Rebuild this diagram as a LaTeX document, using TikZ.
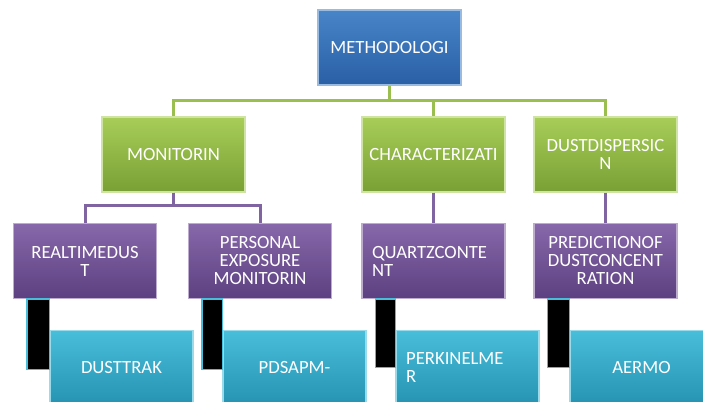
\documentclass[tikz,border=0pt]{standalone}
\usepackage{fontspec}
\setmainfont{Carlito}
\usetikzlibrary{calc}

\definecolor{methTop}{RGB}{72,132,200}
\definecolor{methBot}{RGB}{42,96,165}
\definecolor{grnTop}{RGB}{168,205,88}
\definecolor{grnBot}{RGB}{120,160,52}
\definecolor{grnLine}{RGB}{155,190,80}
\definecolor{purTop}{RGB}{135,104,170}
\definecolor{purBot}{RGB}{92,64,128}
\definecolor{purLine}{RGB}{128,100,162}
\definecolor{cyaTop}{RGB}{72,190,218}
\definecolor{cyaBot}{RGB}{38,146,178}

\begin{document}
\begin{tikzpicture}[x=0.75pt,y=-0.75pt,
                    boxND/.style={rectangle,
                                  minimum width=107.25pt,
                                  minimum height=56.25pt,
                                  inner sep=0pt,
                                  text=white,
                                  align=center,
                                  font=\fontsize{14}{13.5}\selectfont},
                    methND/.style={boxND, top color=methTop, bottom color=methBot,
                                   draw=methTop!55!white, line width=0.8pt},
                    grnND/.style={boxND, top color=grnTop, bottom color=grnBot,
                                  draw=grnTop!55!white, line width=0.8pt},
                    purND/.style={boxND, top color=purTop, bottom color=purBot,
                                  draw=purTop!55!white, line width=0.8pt},
                    cyaND/.style={boxND, top color=cyaTop, bottom color=cyaBot,
                                  draw=cyaTop!55!white, line width=0.8pt},
                    leftTX/.style={align=left, text width=92pt},
                    grnLN/.style={draw=grnLine, line width=2.25pt},
                    purLN/.style={draw=purLine, line width=2.25pt},
                    barLN/.style={fill=black, draw=cyaTop, line width=0.8pt}]
    \useasboundingbox (0,0) rectangle (703,402);
    \clip (0,0) rectangle (703,402);

    % top level
    \node[methND](meth) at (389.5,47.5) {METHODOLOGI};

    % second row
    \node[grnND](mon)  at (173.5,154.5) {MONITORIN};
    \node[grnND](char) at (433.5,154.5) {CHARACTERIZATI};
    \node[grnND](disp) at (605.5,154.5) {DUSTDISPERSIC\\N};

    % third row
    \node[purND](rt)   at (85,261)    {REALTIMEDUS\\T};
    \node[purND](pe)   at (260,261)   {PERSONAL\\EXPOSURE\\MONITORIN};
    \node[purND,leftTX](qc) at (433.5,261) {QUARTZCONTE\\NT};
    \node[purND](pr)   at (605.5,261) {PREDICTIONOF\\DUSTCONCENT\\RATION};

    % bottom row
    \node[cyaND](dt)   at (121.5,368) {DUSTTRAK};
    \node[cyaND](pd)   at (294.5,368) {PDSAPM-};
    \node[cyaND,leftTX](pk) at (467.5,368) {PERKINELME\\R};
    \node[cyaND](ae)   at (641.5,368) {AERMO};

    % connectors
    \draw[grnLN] (meth.south) -- ++(0,15) -| (mon.north);
    \draw[grnLN] (meth.south) -- ++(0,15) -| (char.north);
    \draw[grnLN] (meth.south) -- ++(0,15) -| (disp.north);
    \draw[purLN] (mon.south) -- ++(0,13) -| (rt.north);
    \draw[purLN] (mon.south) -- ++(0,13) -| (pe.north);
    \draw[purLN] (char.south) -- (qc.north);
    \draw[purLN] (disp.south) -- (pr.north);

    % black bars under the third row
    \draw[barLN] ($(rt.south west)+(14,0)$) rectangle ($(dt.north west)+(0,40)$);
    \draw[barLN] ($(pe.south west)+(14,0)$) rectangle ($(pd.north west)+(0,40)$);
    \draw[barLN] ($(qc.south west)+(14,0)$) rectangle ($(pk.north west)+(0,38)$);
    \draw[barLN] ($(pr.south west)+(14,0)$) rectangle ($(ae.north west)+(0,38)$);
\end{tikzpicture}
\end{document}
